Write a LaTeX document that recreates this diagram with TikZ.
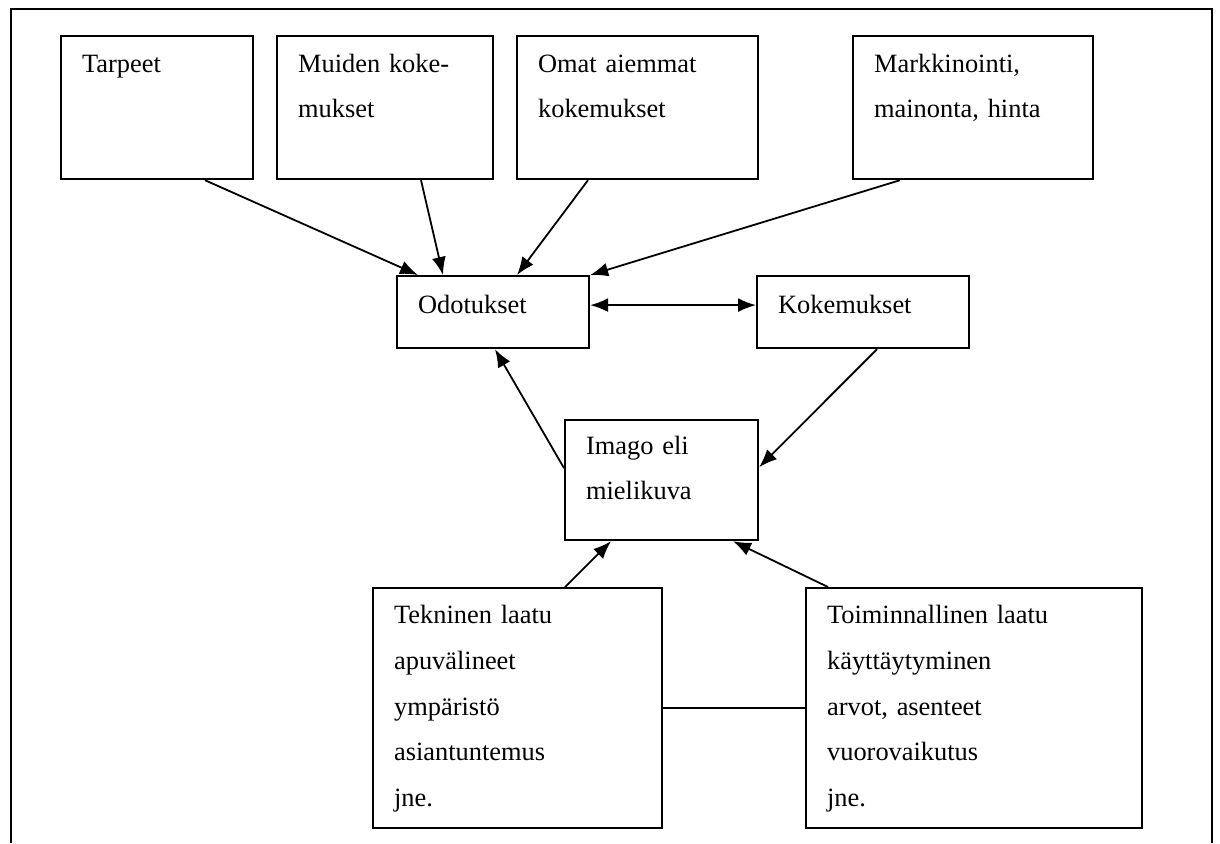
\documentclass[tikz,border=0pt]{standalone}
\usepackage{fontspec}
\setmainfont{Liberation Serif}
\usetikzlibrary{arrows.meta}

\tikzset{
	laatikko/.style={draw, line width=1.1pt, anchor=north west, inner sep=0pt, inner xsep=10.5pt, align=left,
		font=\fontsize{13.2}{22.85}\selectfont},
	ylarivi/.style={laatikko, text height=18pt, text depth=53.5pt},
	keskirivi/.style={laatikko, text height=18.5pt, text depth=17.5pt},
	alarivi/.style={laatikko, text height=17.75pt, text depth=102.25pt},
}

\begin{document}
\begin{tikzpicture}[x=0.5pt, y=-0.5pt]
	%\draw[help lines] (0,0) grid (1220,843);
	\useasboundingbox (0,0) rectangle (1220,843);
	\draw[line width=0.7pt] (11,843) -- (11,9) -- (1212,9) -- (1212,843);

	\node[ylarivi, text width=75pt] (Tarpeet) at (60,35) {Tarpeet};
	\node[ylarivi, text width=87pt] (Muiden) at (276,35) {Muiden koke-\\mukset};
	\node[ylarivi, text width=99.5pt] (Omat) at (516,35) {Omat aiemmat\\kokemukset};
	\node[ylarivi, text width=99pt] (Markkinointi) at (852,35) {Markkinointi,\\mainonta, hinta};
	\node[keskirivi, text width=75pt] (Odotukset) at (396,275) {Odotukset};
	\node[keskirivi, text width=85pt] (Kokemukset) at (756,275) {Kokemukset};
	\node[laatikko, text height=17pt, text depth=43pt, text width=75.5pt] (Imago) at (564,419) {Imago eli\\mielikuva};
	\node[alarivi, text width=123.5pt] (Tekninen) at (372,587) {Tekninen laatu\\apuvälineet\\ympäristö\\asiantuntemus\\jne.};
	\node[alarivi, text width=147pt] (Toiminnallinen) at (805,587) {Toiminnallinen laatu\\käyttäytyminen\\arvot, asenteet\\vuorovaikutus\\jne.};

	\begin{scope}[line width=0.9pt, >={Latex[length=9pt,width=7pt]}]
	\draw[->] ([xshift=72.5pt]Tarpeet.south west) -- ([xshift=11pt]Odotukset.north west);
	\draw[->] ([xshift=72.5pt]Muiden.south west) -- ([xshift=23.5pt]Odotukset.north west);
	\draw[->] ([xshift=36pt]Omat.south west) -- ([xshift=60.5pt]Odotukset.north west);
	\draw[->] ([xshift=24pt]Markkinointi.south west) -- (Odotukset.north east);
	\draw[<->] ([yshift=3.5pt]Odotukset.east) -- ([yshift=3.5pt]Kokemukset.west);
	\draw[->] ([yshift=6pt]Imago.west) -- ([xshift=49.5pt]Odotukset.south west);
	\draw[->] ([xshift=60.5pt]Kokemukset.south west) -- ([yshift=6.5pt]Imago.east);
	\draw[->] ([xshift=96.5pt]Tekninen.north west) -- ([xshift=23.5pt]Imago.south west);
	\draw[->] ([xshift=11.5pt]Toiminnallinen.north west) -- ([xshift=84.5pt]Imago.south west);
	\draw (Tekninen.east) -- (Toiminnallinen.west);
	\end{scope}
\end{tikzpicture}
\end{document}
